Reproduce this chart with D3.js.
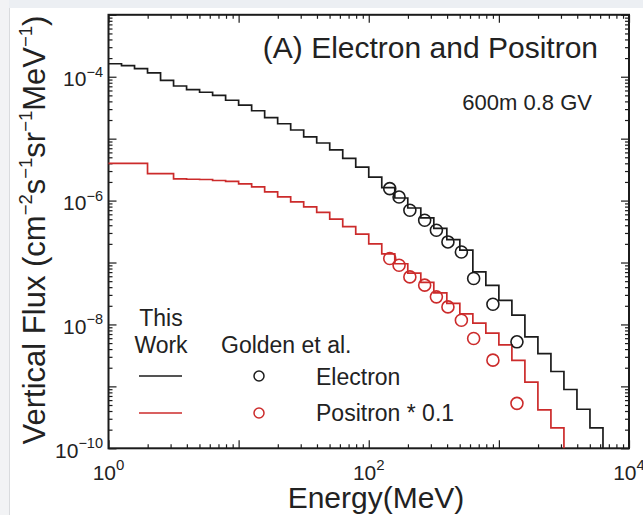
<!DOCTYPE html>
<html>
<head>
<meta charset="utf-8">
<script src="https://cdn.jsdelivr.net/npm/d3@7"></script>
<style>
  body { margin: 0; background: #fff; }
  svg { display: block; font-family: "Liberation Sans", Arial, Helvetica, sans-serif; }
</style>
</head>
<body>
<script>
// histogram bin edges (MeV), lower edge of each bin
const binEdges = [1, 1.259, 1.585, 1.995, 2.512, 3.162, 3.981, 5.012, 6.310, 7.943,
  10, 12.59, 15.85, 19.95, 25.12, 31.62, 39.81, 50.12, 63.10, 79.43,
  100, 125.9, 158.5, 199.5, 251.2, 316.2, 398.1, 501.2, 631.0, 794.3,
  1000, 1259, 1585, 1995, 2512, 3162, 3981, 5012, 6310];

// This Work - electron flux per bin
const electronSim = [1.62e-4, 1.51e-4, 1.35e-4, 1.15e-4, 8.71e-5, 7.08e-5, 6.17e-5, 5.62e-5, 5.01e-5, 4.17e-5,
  3.47e-5, 2.82e-5, 2.19e-5, 1.74e-5, 1.38e-5, 1.07e-5, 8.51e-6, 6.61e-6, 4.79e-6, 3.47e-6,
  2.40e-6, 1.62e-6, 1.10e-6, 7.59e-7, 5.25e-7, 3.55e-7, 2.34e-7, 1.58e-7, 7.08e-8, 4.27e-8,
  2.45e-8, 1.41e-8, 6.31e-9, 3.39e-9, 1.74e-9, 8.91e-10, 4.27e-10, 2.14e-10];

// This Work - positron flux * 0.1 per bin
const positronSim = [3.98e-6, 3.98e-6, 3.98e-6, 2.72e-6, 2.72e-6, 2.24e-6, 2.21e-6, 2.19e-6, 2.11e-6, 2.04e-6,
  1.86e-6, 1.66e-6, 1.38e-6, 1.15e-6, 9.55e-7, 7.94e-7, 6.46e-7, 5.01e-7, 3.80e-7, 2.88e-7,
  2.00e-7, 1.38e-7, 9.55e-8, 6.76e-8, 4.79e-8, 3.24e-8, 2.19e-8, 1.48e-8, 1.05e-8, 7.24e-9,
  4.68e-9, 2.63e-9, 1.17e-9, 4.17e-10, 2.14e-10];

// Golden et al. measurements
const goldenEnergy = [145, 171, 207, 269, 331, 406, 515, 640, 900, 1377];
const goldenElectron = [1.56e-6, 1.14e-6, 6.98e-7, 4.81e-7, 3.32e-7, 2.15e-7, 1.48e-7, 5.52e-8, 2.12e-8, 5.24e-9];
const goldenPositron = [1.16e-7, 9.04e-8, 5.86e-8, 4.31e-8, 2.79e-8, 1.92e-8, 1.17e-8, 5.94e-9, 2.65e-9, 5.32e-10];

const xLabelTicks = [1, 100, 10000];
const xLabelExp = ["0", "2", "4"];
const yLabelTicks = [1e-4, 1e-6, 1e-8, 1e-10];
const yLabelExp = ["\u22124", "\u22126", "\u22128", "\u221210"];

const W = 643, H = 515;
const mLeft = 108.5, mRight = 629, mTop = 14.8, mBottom = 448.3;
const black = "#1b1b1b", red = "#cc2b2b";

const svg = d3.select("body").append("svg").attr("width", W).attr("height", H);

// page frame
svg.append("rect").attr("width", W).attr("height", H).attr("fill", "#fff");
svg.append("rect").attr("width", W).attr("height", 8).attr("fill", "#eceff3");
svg.append("rect").attr("width", 9).attr("height", H).attr("fill", "#f2f3f5");
svg.append("line").attr("x1", 9.5).attr("x2", 9.5).attr("y1", 8).attr("y2", H)
  .attr("stroke", "#d9dbde");

const x = d3.scaleLog().domain([1, 1e4]).range([mLeft, mRight]);
const y = d3.scaleLog().domain([1e-10, 1e-3]).range([mBottom, mTop]);

const isDecade = v => Math.abs(Math.log10(v) - Math.round(Math.log10(v))) < 1e-9;
const xMinor = x.ticks().filter(v => !isDecade(v));
const xMajor = x.ticks().filter(isDecade);
const yMinor = y.ticks().filter(v => !isDecade(v));
const yMajor = y.ticks().filter(isDecade);

function tickAxis(axisFn, scale, vals, size, tx, ty) {
  const g = svg.append("g").attr("transform", `translate(${tx},${ty})`)
    .call(axisFn(scale).tickValues(vals).tickSize(size).tickSizeOuter(0).tickFormat(""));
  g.select(".domain").remove();
  g.selectAll(".tick line").attr("stroke", black).attr("stroke-width", 1.2);
}
// all ticks point inwards
tickAxis(d3.axisBottom, x, xMinor, -4, 0, mBottom);
tickAxis(d3.axisBottom, x, xMajor, -8, 0, mBottom);
tickAxis(d3.axisTop, x, xMinor, -4, 0, mTop);
tickAxis(d3.axisTop, x, xMajor, -8, 0, mTop);
tickAxis(d3.axisLeft, y, yMinor, -4, mLeft, 0);
tickAxis(d3.axisLeft, y, yMajor, -8, mLeft, 0);
tickAxis(d3.axisRight, y, yMinor, -4, mRight, 0);
tickAxis(d3.axisRight, y, yMajor, -8, mRight, 0);

// frame
svg.append("rect").attr("x", mLeft).attr("y", mTop)
  .attr("width", mRight - mLeft).attr("height", mBottom - mTop)
  .attr("fill", "none").attr("stroke", black).attr("stroke-width", 2);

// tick labels
xLabelTicks.forEach((v, i) => {
  const t = svg.append("text").attr("x", x(v)).attr("y", 480)
    .attr("text-anchor", "middle").attr("font-size", 21).attr("fill", "#222");
  t.append("tspan").text("10");
  t.append("tspan").attr("dy", -10).attr("font-size", 15).text(xLabelExp[i]);
});
yLabelTicks.forEach((v, i) => {
  const t = svg.append("text").attr("x", 103).attr("y", y(v) + 9.5)
    .attr("text-anchor", "end").attr("font-size", 21).attr("fill", "#222");
  t.append("tspan").text("10");
  t.append("tspan").attr("dy", -9.5).attr("font-size", 14.5).text(yLabelExp[i]);
});

// axis titles
svg.append("text").attr("x", 376).attr("y", 508).attr("text-anchor", "middle")
  .attr("font-size", 30).attr("fill", "#222").text("Energy(MeV)");

const yt = svg.append("text").attr("transform", "translate(45,230) rotate(-90)")
  .attr("text-anchor", "middle").attr("font-size", 31).attr("fill", "#222");
const yParts = [["Vertical Flux (cm", "\u22122"], ["s", "\u22121"], ["sr", "\u22121"], ["MeV", "\u22121"], [")", null]];
yParts.forEach(([base, sup], i) => {
  yt.append("tspan").attr("dy", i > 0 ? 13 : 0).text(base);
  if (sup) yt.append("tspan").attr("dy", -13).attr("font-size", 18.5).text(sup);
});

// step histograms
const stepLine = d3.line().x(d => x(d[0])).y(d => y(d[1])).curve(d3.curveStepAfter);
function stepPoints(vals) {
  const pts = vals.map((v, i) => [binEdges[i], v]);
  const end = binEdges[vals.length];
  pts.push([end, vals[vals.length - 1]]);
  pts.push([end, y.domain()[0]]);
  return pts;
}
svg.append("path").attr("d", stepLine(stepPoints(positronSim)))
  .attr("fill", "none").attr("stroke", red).attr("stroke-width", 1.7);
svg.append("path").attr("d", stepLine(stepPoints(electronSim)))
  .attr("fill", "none").attr("stroke", black).attr("stroke-width", 1.7);

// Golden et al. points
svg.selectAll(".ge").data(goldenEnergy).enter().append("circle")
  .attr("cx", d => x(d)).attr("cy", (d, i) => y(goldenElectron[i])).attr("r", 6)
  .attr("fill", "none").attr("stroke", black).attr("stroke-width", 1.6);
svg.selectAll(".gp").data(goldenEnergy).enter().append("circle")
  .attr("cx", d => x(d)).attr("cy", (d, i) => y(goldenPositron[i])).attr("r", 6)
  .attr("fill", "none").attr("stroke", red).attr("stroke-width", 1.6);

// annotations
svg.append("text").attr("x", 598).attr("y", 58).attr("text-anchor", "end")
  .attr("font-size", 30).attr("fill", "#222").text("(A) Electron and Positron");
svg.append("text").attr("x", 592).attr("y", 110).attr("text-anchor", "end")
  .attr("font-size", 22).attr("fill", "#222").text("600m 0.8 GV");

// legend
const lg = svg.append("g").attr("font-size", 23).attr("fill", "#222");
lg.append("text").attr("x", 161).attr("y", 326).attr("text-anchor", "middle").text("This");
lg.append("text").attr("x", 161).attr("y", 353).attr("text-anchor", "middle").text("Work");
lg.append("text").attr("x", 221).attr("y", 353).text("Golden et al.");
lg.append("text").attr("x", 316).attr("y", 385).text("Electron");
lg.append("text").attr("x", 316).attr("y", 421).text("Positron * 0.1");
lg.append("line").attr("x1", 139).attr("x2", 182).attr("y1", 376).attr("y2", 376)
  .attr("stroke", black).attr("stroke-width", 1.7);
lg.append("line").attr("x1", 139).attr("x2", 182).attr("y1", 413).attr("y2", 413)
  .attr("stroke", red).attr("stroke-width", 1.7);
lg.append("circle").attr("cx", 259).attr("cy", 376).attr("r", 5)
  .attr("fill", "none").attr("stroke", black).attr("stroke-width", 1.5);
lg.append("circle").attr("cx", 259).attr("cy", 413).attr("r", 5)
  .attr("fill", "none").attr("stroke", red).attr("stroke-width", 1.5);
</script>
</body>
</html>
